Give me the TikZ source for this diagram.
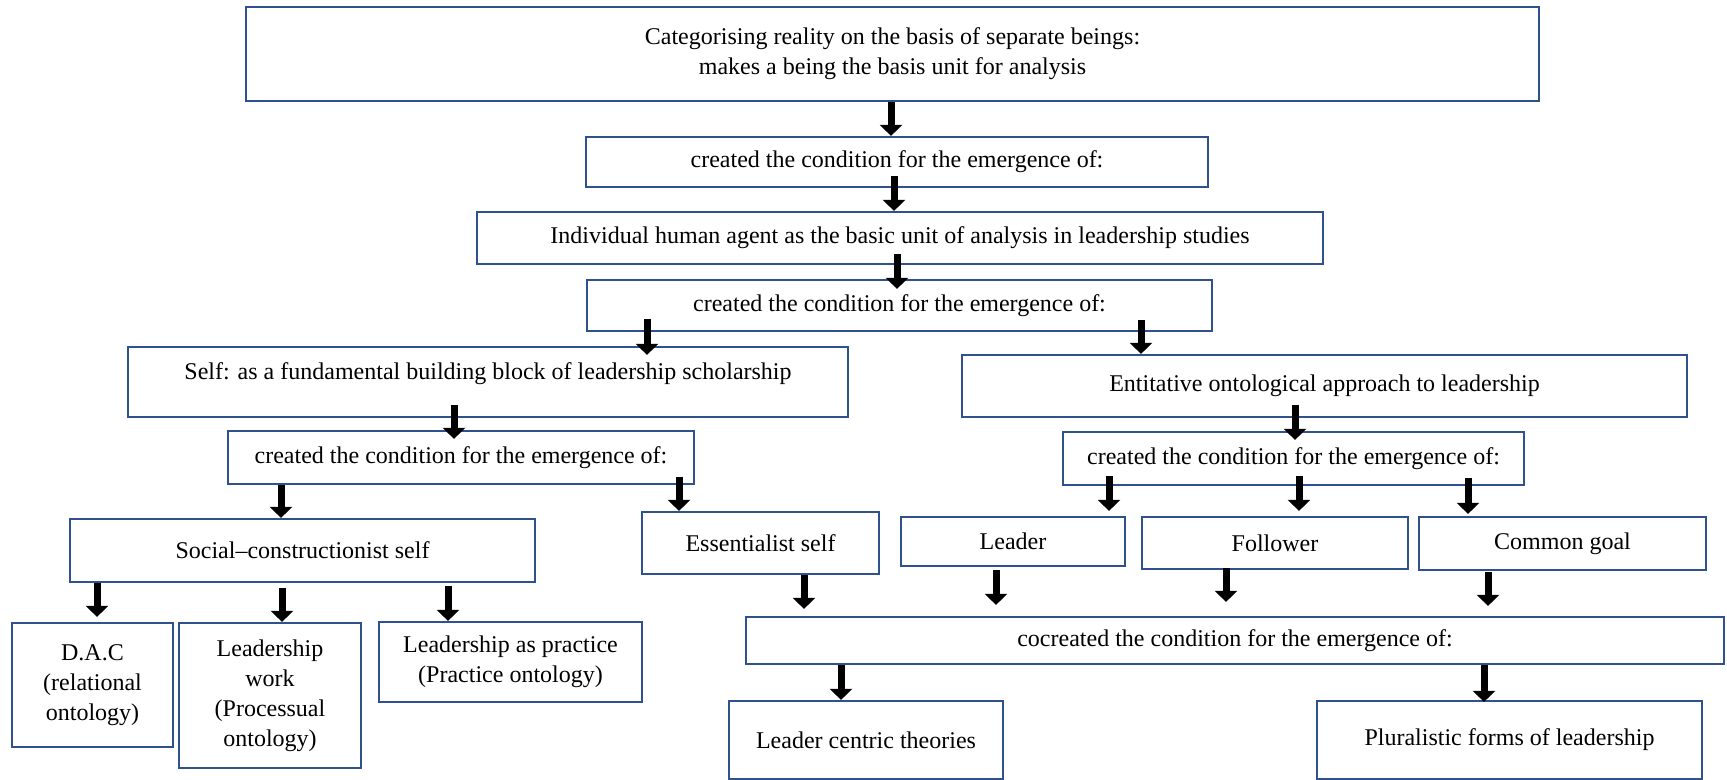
\documentclass[tikz,border=0pt]{standalone}
\usepackage{fontspec}
\setmainfont{Liberation Serif}
\usepackage{tikz}
\usetikzlibrary{arrows.meta}
\definecolor{boxblue}{HTML}{2F528F}

\begin{document}
\begin{tikzpicture}[
  x=0.5pt, y=-0.5pt,
  font={\fontsize{12pt}{15pt}\selectfont},
  box/.style={draw=boxblue, line width=1.1pt, fill=white, inner sep=0pt,
    align=center},
  flow/.style={-{Triangle[width=11pt,length=5.5pt]}, line width=3.5pt, draw=black}
]
  \useasboundingbox (0,0) rectangle (1727,780);

  % main chain
  \node[box, minimum width=646.5pt, minimum height=47pt] (being) at (892.5,54)
    {Categorising reality on the basis of separate beings:\\makes a being the basis unit for analysis};
  \node[box, minimum width=311pt, minimum height=25pt] (cond1) at (897,162)
    {created the condition for the emergence of:};
  \node[box, minimum width=423pt, minimum height=26pt] (agent) at (900,238)
    {Individual human agent as the basic unit of analysis in leadership studies};
  \node[box, minimum width=312.5pt, minimum height=25.5pt] (cond2) at (899.5,305.5)
    {created the condition for the emergence of:};

  % left branch
  \node[box, minimum width=360pt, minimum height=35pt, text depth=11pt] (self) at (488,382)
    {Self: as a fundamental building block of leadership scholarship};
  \node[box, minimum width=233pt, minimum height=26.5pt] (cond3) at (461,457.5)
    {created the condition for the emergence of:};
  \node[box, minimum width=232.5pt, minimum height=31.5pt] (social) at (302.5,550.5)
    {Social--constructionist self};
  \node[box, minimum width=118.5pt, minimum height=31pt] (essential) at (760.5,543)
    {Essentialist self};
  \node[box, minimum width=80.5pt, minimum height=62pt] (dac) at (92.5,685)
    {D.A.C\\(relational\\ontology)};
  \node[box, minimum width=91pt, minimum height=72.5pt] (work) at (270,695.5)
    {Leadership\\work\\(Processual\\ontology)};
  \node[box, minimum width=131.5pt, minimum height=40pt] (practice) at (510.5,662)
    {Leadership as practice\\(Practice ontology)};

  % right branch
  \node[box, minimum width=362.5pt, minimum height=31pt] (entitative) at (1324.5,386)
    {Entitative ontological approach to leadership};
  \node[box, minimum width=230.5pt, minimum height=26.5pt] (cond4) at (1293.5,458.5)
    {created the condition for the emergence of:};
  \node[box, minimum width=112pt, minimum height=24.5pt] (leader) at (1013,541.5) {Leader};
  \node[box, minimum width=133pt, minimum height=26pt] (follower) at (1275,543) {Follower};
  \node[box, minimum width=143.5pt, minimum height=26.5pt] (goal) at (1562.5,543.5) {Common goal};
  \node[box, minimum width=489pt, minimum height=23.5pt] (cocreated) at (1235,640.5)
    {cocreated the condition for the emergence of:};
  \node[box, minimum width=137pt, minimum height=39pt] (centric) at (866,740)
    {Leader centric theories};
  \node[box, minimum width=192.5pt, minimum height=39pt] (plural) at (1509.5,740)
    {Pluralistic forms of leadership};

  % arrows
  \draw[flow] ([xshift=-0.75pt]being.south) -- ([xshift=-0.75pt]being.south |- cond1.north);
  \draw[flow] ([xshift=-1.5pt,yshift=6pt]cond1.south) -- ([xshift=-1.5pt]cond1.south |- agent.north);
  \draw[flow] ([xshift=-1.5pt,yshift=5.5pt]agent.south) -- ([xshift=-1.5pt,yshift=-5pt]agent.south |- cond2.north);
  \draw[flow] ([xshift=-126.25pt,yshift=6.5pt]cond2.south) -- ([xshift=-126.25pt,yshift=-4.5pt]cond2.south |- self.north);
  \draw[flow] ([xshift=120.75pt,yshift=6pt]cond2.south) -- ([xshift=120.75pt]cond2.south |- entitative.north);

  \draw[flow] ([xshift=-17pt,yshift=6.5pt]self.south) -- ([xshift=-17pt,yshift=-4.5pt]self.south |- cond3.north);
  \draw[flow] ([xshift=-90pt]cond3.south) -- ([xshift=-90pt]cond3.south |- social.north);
  \draw[flow] ([xshift=109pt,yshift=4pt]cond3.south) -- ([xshift=109pt]cond3.south |- essential.north);
  \draw[flow] ([xshift=-102.75pt]social.south) -- ([xshift=-102.75pt,yshift=2.5pt]social.south |- dac.north);
  \draw[flow] ([xshift=-10.25pt,yshift=-2.5pt]social.south) -- ([xshift=-10.25pt]social.south |- work.north);
  \draw[flow] ([xshift=72.75pt,yshift=-1.5pt]social.south) -- ([xshift=72.75pt]social.south |- practice.north);
  \draw[flow] ([xshift=21.75pt]essential.south) -- ([xshift=21.75pt,yshift=3.5pt]essential.south |- cocreated.north);

  \draw[flow] ([xshift=-14.75pt,yshift=6.5pt]entitative.south) -- ([xshift=-14.75pt,yshift=-4.5pt]entitative.south |- cond4.north);
  \draw[flow] ([xshift=-92.25pt,yshift=5pt]cond4.south) -- ([xshift=-92.25pt,yshift=2.5pt]cond4.south |- leader.north);
  \draw[flow] ([xshift=2.75pt,yshift=5pt]cond4.south) -- ([xshift=2.75pt,yshift=2.5pt]cond4.south |- follower.north);
  \draw[flow] ([xshift=87.25pt,yshift=4pt]cond4.south) -- ([xshift=87.25pt,yshift=1pt]cond4.south |- goal.north);
  \draw[flow] ([xshift=-8.5pt,yshift=-1.5pt]leader.south) -- ([xshift=-8.5pt,yshift=5.5pt]leader.south |- cocreated.north);
  \draw[flow] ([xshift=-24.5pt,yshift=1pt]follower.south) -- ([xshift=-24.5pt,yshift=7pt]follower.south |- cocreated.north);
  \draw[flow] ([xshift=-37.25pt,yshift=-0.5pt]goal.south) -- ([xshift=-37.25pt,yshift=5pt]goal.south |- cocreated.north);
  \draw[flow] ([xshift=-197pt]cocreated.south) -- ([xshift=-197pt]cocreated.south |- centric.north);
  \draw[flow] ([xshift=124.5pt]cocreated.south) -- ([xshift=124.5pt,yshift=-1pt]cocreated.south |- plural.north);
\end{tikzpicture}
\end{document}
